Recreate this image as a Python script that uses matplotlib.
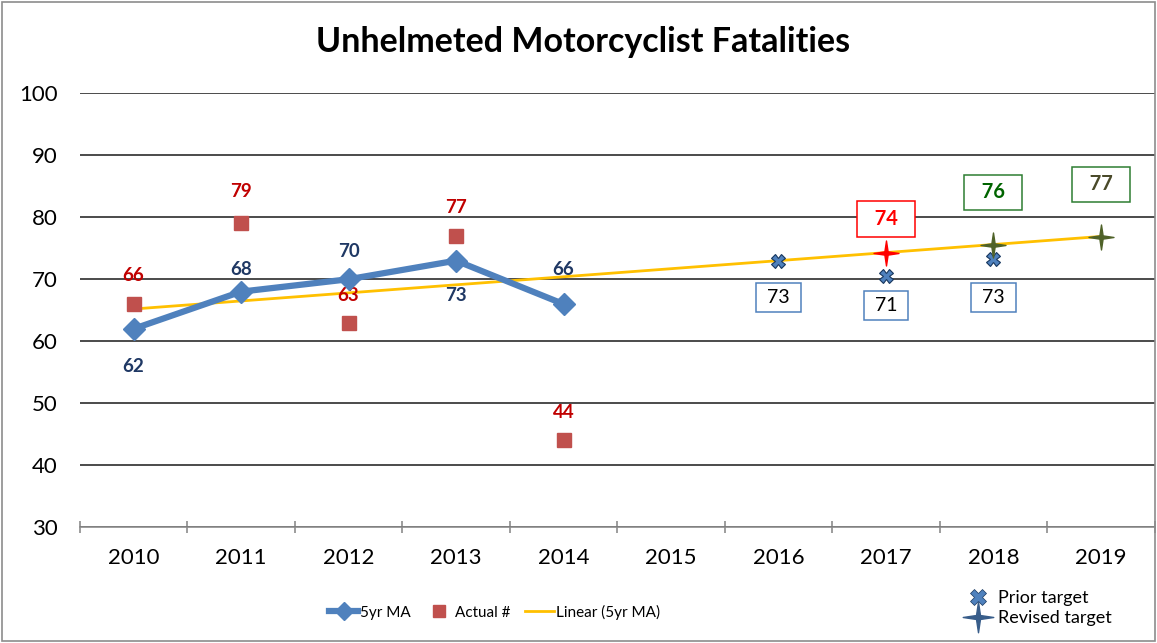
import numpy as np
import matplotlib
matplotlib.use("Agg")
import matplotlib.pyplot as plt
from matplotlib.lines import Line2D
from matplotlib.path import Path
from matplotlib.patches import Rectangle

plt.rcParams["font.family"] = ["Lato", "DejaVu Sans"]

years = ["2010", "2011", "2012", "2013", "2014", "2015", "2016", "2017", "2018", "2019"]
ma_years = [0, 1, 2, 3, 4]
ma_values = [62, 68, 70, 73, 66]
actual_values = [66, 79, 63, 77, 44]
prior_idx = [6, 7, 8]
prior_values = [73, 70.6, 73.2]
prior_labels = ["73", "71", "73"]
revised_idx = [7, 8, 9]
revised_values = [74.3, 75.5, 76.8]
revised_labels = ["74", "76", "77"]

BLUE = "#4F81BD"
RED = "#C0504D"
NAVY = "#1F3864"
DARKRED = "#C00000"
GOLD = "#FFC000"
OLIVE = "#4F6228"

# thin four-point star marker
r = 0.13
star4 = Path([(0, 1), (r, r), (1, 0), (r, -r), (0, -1), (-r, -r), (-1, 0), (-r, r), (0, 1)],
             [Path.MOVETO] + [Path.LINETO] * 7 + [Path.CLOSEPOLY])

fig = plt.figure(figsize=(11.57, 6.43), dpi=100)
fig.patches.append(Rectangle((0.002, 0.003), 0.996, 0.994, transform=fig.transFigure,
                             fill=False, ec="#8c8c8c", lw=1.2))
ax = fig.add_axes([0.069, 0.180, 0.929, 0.675])

ax.set_xlim(-0.5, 9.5)
ax.set_ylim(30, 100)
ax.set_yticks(range(30, 101, 10))
ax.yaxis.grid(True, color="#1a1a1a", lw=1.1)
ax.set_axisbelow(True)
for s in ["top", "right", "left"]:
    ax.spines[s].set_visible(False)
ax.spines["bottom"].set_color("#8c8c8c")
ax.spines["bottom"].set_linewidth(1.2)
ax.tick_params(axis="y", length=0, labelsize=16, pad=16)
ax.set_xticks(np.arange(10))
ax.set_xticklabels(years, fontsize=16)
ax.tick_params(axis="x", which="major", length=0, pad=15)
ax.set_xticks(np.arange(-0.5, 10, 1), minor=True)
ax.tick_params(axis="x", which="minor", length=8, direction="inout", color="#8c8c8c", width=1.2)

# trend of 5yr MA extended to 2019
coef = np.polyfit(ma_years, ma_values, 1)
tx = np.arange(0, 10)
ax.plot(tx, np.polyval(coef, tx), color=GOLD, lw=2, zorder=3)

ax.plot(ma_years, ma_values, color=BLUE, lw=4.5, marker="D", ms=11, zorder=4)
ax.plot(ma_years, actual_values, ls="none", marker="s", ms=10, color=RED, zorder=5)

ax.plot(prior_idx, prior_values, ls="none", marker="X", ms=10, mfc=BLUE, mec="#17375E",
        mew=0.8, zorder=6)
rev_colors = ["#FF0000", OLIVE, OLIVE]
for i, v, c in zip(revised_idx, revised_values, rev_colors):
    ax.plot(i, v, ls="none", marker=star4, ms=18, color=c, zorder=7)

# data labels
ma_off = [-6, 3.6, 4.5, -5.7, 5.5]
for x, v, o in zip(ma_years, ma_values, ma_off):
    ax.text(x, v + o, str(v), ha="center", va="center", fontsize=13.5, fontweight="bold", color=NAVY)
act_off = [4.6, 5.2, 4.4, 4.6, 4.5]
for x, v, o in zip(ma_years, actual_values, act_off):
    ax.text(x, v + o, str(v), ha="center", va="center", fontsize=13.5, fontweight="bold", color=DARKRED)

prior_off = [-5.9, -4.8, -6.1]
for x, v, lab, o in zip(prior_idx, prior_values, prior_labels, prior_off):
    ax.text(x, v + o, " " + lab + " ", ha="center", va="center", fontsize=14, color="black",
            bbox=dict(boxstyle="square,pad=0.3", fc="white", ec=BLUE, lw=1.1))
rev_off = [5.4, 8.5, 8.5]
rev_text = ["#FF0000", "#006400", "#4A4A2A"]
rev_edge = ["#FF0000", "#2E7D32", "#2E7D32"]
for x, v, lab, o, tc, ec in zip(revised_idx, revised_values, revised_labels, rev_off, rev_text, rev_edge):
    ax.text(x, v + o, "  " + lab + "  ", ha="center", va="center", fontsize=14.5, fontweight="bold",
            color=tc, bbox=dict(boxstyle="square,pad=0.38", fc="white", ec=ec, lw=1.1))

fig.text(0.504, 0.935, "Unhelmeted Motorcyclist Fatalities", ha="center", va="center",
         fontsize=24.5, fontweight="bold")

h1 = [Line2D([], [], color=BLUE, lw=4.5, marker="D", ms=9),
      Line2D([], [], ls="none", marker="s", ms=9, color=RED),
      Line2D([], [], color=GOLD, lw=2)]
fig.legend(h1, ["5yr MA", "Actual #", "Linear (5yr MA)"], loc="center", ncol=3,
           bbox_to_anchor=(0.4274, 0.048), frameon=False, fontsize=11, handlelength=1.9,
           handletextpad=0.12, columnspacing=0.9)
h2 = [Line2D([], [], ls="none", marker="X", ms=12, mfc=BLUE, mec="#17375E", mew=0.5),
      Line2D([], [], ls="none", marker=star4, ms=22, color="#385D8A")]
fig.legend(h2, ["Prior target", "Revised target"], loc="center",
           bbox_to_anchor=(0.898, 0.054), frameon=False, fontsize=13, handlelength=1.3,
           handletextpad=0.45, labelspacing=0.2, borderpad=0.1)

fig.savefig("out.png", dpi=100)
